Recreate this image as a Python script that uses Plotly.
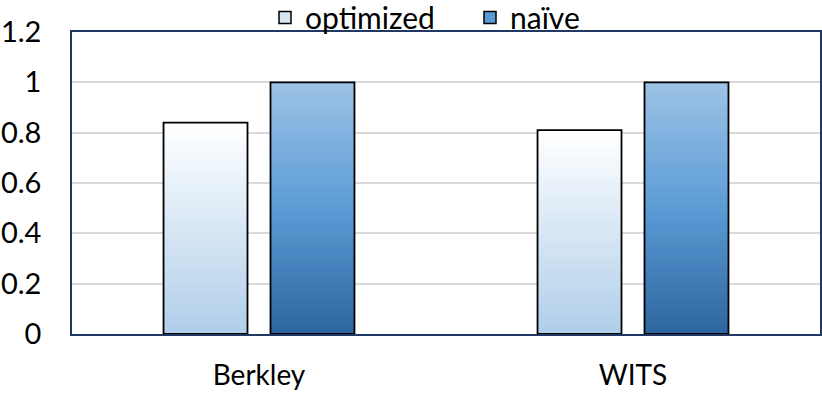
import plotly.graph_objects as go

categories = ["Berkley", "WITS"]
optimized = [0.84, 0.81]
naive = [1.0, 1.0]
series_names = ["optimized", "naïve"]

y_ticks = [0, 0.2, 0.4, 0.6, 0.8, 1, 1.2]
y_tick_labels = ["0", "0.2", "0.4", "0.6", "0.8", "1", "1.2"]

font = "Lato, Open Sans, sans-serif"
n_seg = 40

# gradient stops (top -> bottom)
opt_stops = [(0.0, (255, 255, 255)), (1.0, (176, 206, 234))]
naive_stops = [(0.0, (157, 195, 230)), (0.5, (91, 155, 213)), (1.0, (46, 101, 160))]


def lerp_color(stops, t):
    for (t0, c0), (t1, c1) in zip(stops[:-1], stops[1:]):
        if t0 <= t <= t1:
            f = (t - t0) / (t1 - t0)
            c = [round(a + (b - a) * f) for a, b in zip(c0, c1)]
            return f"rgb({c[0]},{c[1]},{c[2]})"
    c = stops[-1][1]
    return f"rgb({c[0]},{c[1]},{c[2]})"


fig = go.Figure()

for name, vals, stops in [(series_names[0], optimized, opt_stops), (series_names[1], naive, naive_stops)]:
    # gradient body, drawn as stacked slices
    for k in range(n_seg):
        t = 1 - (k + 0.5) / n_seg
        col = lerp_color(stops, t)
        fig.add_trace(go.Bar(
            x=categories,
            y=[v / n_seg for v in vals],
            base=[v * k / n_seg for v in vals],
            offsetgroup=name,
            marker=dict(color=col, line=dict(width=1, color=col)),
            showlegend=False,
            hoverinfo="skip",
        ))
    # outline
    fig.add_trace(go.Bar(
        x=categories,
        y=vals,
        name=name,
        offsetgroup=name,
        marker=dict(color="rgba(0,0,0,0)", line=dict(color="black", width=1.8)),
        showlegend=False,
    ))
    # legend entry
    fig.add_trace(go.Bar(
        x=[None], y=[None], name=name,
        marker=dict(color=lerp_color(stops, 0.5), line=dict(color="black", width=1.5)),
        showlegend=True,
    ))

fig.update_layout(
    width=822, height=394,
    barmode="group",
    bargap=0.428,
    bargroupgap=0.215,
    plot_bgcolor="white",
    paper_bgcolor="white",
    margin=dict(l=72, r=2, t=32, b=60, autoexpand=False),
    font=dict(family=font, size=28, color="black"),
    legend=dict(orientation="h", xref="container", x=265 / 822, xanchor="left",
                yref="paper", y=1.048, yanchor="middle", entrywidth=160,
                font=dict(size=30), bgcolor="rgba(0,0,0,0)", tracegroupgap=0),
    showlegend=True,
)
fig.update_yaxes(
    range=[0, 1.2], tickvals=y_ticks, ticktext=y_tick_labels,
    tickfont=dict(size=29),
    showgrid=True, gridcolor="#D9D9D9", gridwidth=1.5,
    showline=True, linecolor="#203864", linewidth=1.5, mirror=True,
    ticks="", ticklabelstandoff=23, zeroline=False, automargin=False,
)
fig.update_xaxes(
    showline=True, linecolor="#203864", linewidth=1.5, mirror=True,
    ticks="", ticklabelstandoff=16, automargin=False,
)

# page body has a default 8px margin; drop it so the figure sits at 0,0
fig.write_html("out.html", config={"displayModeBar": False},
               post_script="document.body.style.margin='0px';")
